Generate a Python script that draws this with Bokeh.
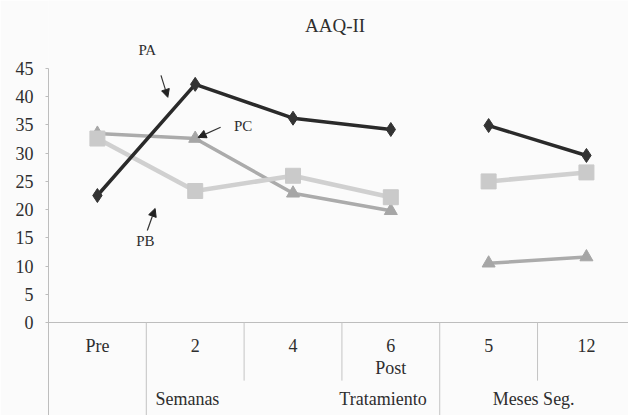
from bokeh.plotting import figure
from bokeh.models import Range1d, FixedTicker, Arrow, NormalHead
from bokeh.core.properties import value
from bokeh.embed import file_html
from bokeh.resources import INLINE

title = "AAQ-II"
categories = ["Pre", "2", "4", "6", "5", "12"]
sub_labels = ["", "", "", "Post", "", ""]
group_labels = ["Semanas", "Tratamiento", "Meses Seg."]
group_pos = [1.42, 3.42, 4.96]
PA = [22.5, 42.2, 36.2, 34.2, 34.9, 29.6]
PB = [32.6, 23.3, 26.0, 22.2, 25.0, 26.6]
PC = [33.5, 32.6, 22.9, 19.8, 10.5, 11.6]
segments = [(0, 4), (4, 6)]
y_ticks = list(range(0, 50, 5))
short_div = [2, 3, 5]
long_div = [0, 1, 4]

FONT = value("Liberation Serif")
TXT = "#2e2e2e"
BG = "#fbfbfb"
Y0, Y1 = -16.48, 57.06

p = figure(width=628, height=415, output_backend="svg", toolbar_location=None,
           x_range=Range1d(0, 5.93), y_range=Range1d(Y0, Y1),
           x_axis_location=None, min_border_left=48, min_border_right=0,
           min_border_top=0, min_border_bottom=0)
p.background_fill_color = BG
p.border_fill_color = BG
p.outline_line_color = None
p.grid.visible = False

ya = p.yaxis[0]
ya.ticker = FixedTicker(ticks=y_ticks)
ya.bounds = (Y0, 45)
ya.axis_line_color = "#bdbdbd"
ya.major_tick_line_color = "#bdbdbd"
ya.major_tick_out = 3
ya.major_tick_in = 0
ya.minor_tick_line_color = None
ya.major_label_standoff = 12
ya.major_label_text_font = "Liberation Serif"
ya.major_label_text_font_size = "18px"
ya.major_label_text_color = TXT

xs = [i + 0.5 for i in range(len(categories))]
n = len(categories)

# category axis line and dividers
p.segment(x0=[0], y0=[0], x1=[n], y1=[0], line_color="#bdbdbd", line_width=1)
p.segment(x0=short_div, y0=[0] * len(short_div), x1=short_div, y1=[-10.3] * len(short_div),
          line_color="#c4c4c4", line_width=1)
p.segment(x0=long_div, y0=[0] * len(long_div), x1=long_div, y1=[Y0] * len(long_div),
          line_color="#c4c4c4", line_width=1)

p.text(x=xs, y=[-4.1] * n, text=categories, text_font=FONT, text_font_size="18px",
       text_color=TXT, text_align="center", text_baseline="middle")
p.text(x=xs, y=[-8.0] * n, text=sub_labels, text_font=FONT, text_font_size="18px",
       text_color=TXT, text_align="center", text_baseline="middle")
p.text(x=group_pos, y=[-13.6] * len(group_labels), text=group_labels, text_font=FONT,
       text_font_size="18px", text_color=TXT, text_align="center", text_baseline="middle")

# title
p.text(x=[2.93], y=[52.6], text=[title], text_font=FONT, text_font_size="19px",
       text_color=TXT, text_align="center", text_baseline="middle")

def draw(vals, lc, lw, marker, msize, fc):
    for a, b in segments:
        p.line(xs[a:b], vals[a:b], line_color=lc, line_width=lw)
    p.scatter(xs, vals, marker=marker, size=msize, fill_color=fc, line_color=fc)

draw(PC, "#ababab", 3.5, "triangle", 13, "#a6a6a6")
draw(PB, "#d0d0d0", 4.5, "square", 15, "#cacaca")
draw(PA, "#2a2a2a", 3.5, "diamond", 14, "#333333")

# annotations
ann_text = ["PA", "PC", "PB"]
ann_x = [1.01, 1.99, 0.99]
ann_y = [48.2, 34.9, 14.4]
p.text(x=ann_x, y=ann_y, text=ann_text, text_font=FONT, text_font_size="15px",
       text_color=TXT, text_align="center", text_baseline="middle")
arr_x0 = [1.15, 1.76, 1.01]
arr_y0 = [43.8, 34.6, 16.3]
arr_x1 = [1.22, 1.53, 1.09]
arr_y1 = [39.9, 32.8, 20.2]
for i in range(len(arr_x0)):
    p.add_layout(Arrow(end=NormalHead(size=8, fill_color="#222222", line_color="#222222"),
                       x_start=arr_x0[i], y_start=arr_y0[i], x_end=arr_x1[i], y_end=arr_y1[i],
                       line_color="#333333", line_width=1.2))

open("out.html", "w").write(file_html(p, INLINE))
